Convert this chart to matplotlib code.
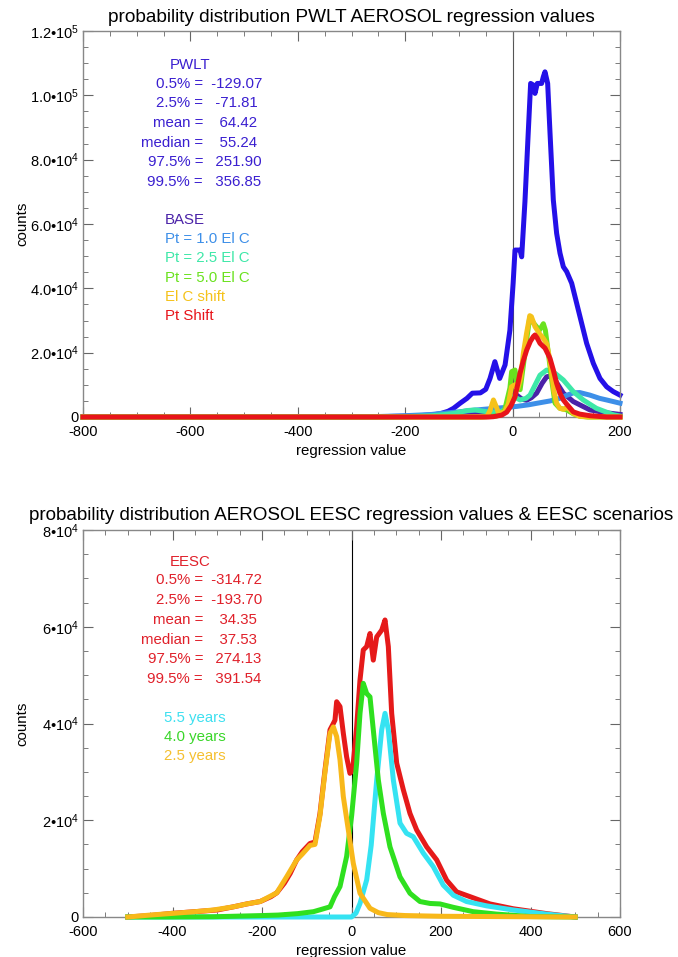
import numpy as np
import matplotlib
matplotlib.use("Agg")
import matplotlib.pyplot as plt
from matplotlib.ticker import MultipleLocator

plt.rcParams['font.family'] = ['Liberation Sans', 'DejaVu Sans']
plt.rcParams['mathtext.fontset'] = 'custom'
plt.rcParams['mathtext.rm'] = 'Liberation Sans'
plt.rcParams['mathtext.it'] = 'Liberation Sans'
plt.rcParams['axes.unicode_minus'] = False

# ---------------- top panel data (PWLT) ----------------
pwlt_x = [-800, -300, -250, -200, -170, -147, -135, -120, -110, -98, -85, -75, -60, -50, -42,
          -33, -24, -14, -5, 1, 4.5, 13.8, 16.9, 23, 29, 33.6, 38.6, 41.7, 46, 54, 57.3, 60.3,
          65.3, 69.7, 75.8, 82, 88.3, 94.5, 100.7, 110, 125.5, 137.9, 150.3, 162.7, 175.1, 187.5, 200]
pwlt_y = [0, 0, 100, 250, 450, 700, 1000, 1800, 2700, 4250, 5800, 7400, 7500, 8600, 12000,
          17200, 12000, 16200, 27000, 41600, 51900, 51900, 49800, 67000, 88000, 103700, 103200, 100600,
          103700, 103700, 105800, 107300, 103700, 88200, 67500, 57100, 50900, 46700, 45200, 41600,
          31200, 22900, 16700, 12000, 9400, 7900, 6800]

base_x = [-800, -250, -200, -150, -110, -85, -60, -40, -20, -5, 2, 7.6, 18, 26, 35, 44.7, 55,
          63.4, 72, 79, 94.5, 113, 144, 175, 200]
base_y = [0, 0, 100, 300, 800, 1500, 1700, 1400, 1600, 3500, 7000, 6800, 5500, 5200, 6000, 7400,
          10500, 12500, 12800, 11500, 7400, 4800, 2200, 1300, 800]

pt10_x = [-800, -300, -250, -200, -150, -135, -100, -73, -40, -11, 8, 30, 44.7, 70, 88, 100, 113,
          125, 144, 162, 175, 200]
pt10_y = [0, 0, 150, 400, 800, 1100, 1600, 2100, 2600, 3000, 3300, 3800, 4250, 5000, 5800, 6700,
          7500, 7600, 6800, 5800, 5300, 4300]

pt25_x = [-800, -250, -200, -150, -130, -110, -85, -70, -55, -40, -23.5, -10, -2, 6, 13.8, 25,
          32.4, 42, 51, 63.4, 79, 94.5, 113, 131.5, 156, 187.5, 200]
pt25_y = [0, 0, 100, 400, 700, 1100, 2000, 2200, 1800, 1500, 1500, 2800, 6300, 6000, 5300, 5800,
          6800, 10000, 13000, 14600, 13600, 11500, 7900, 5300, 2700, 700, 300]

pt50_x = [-800, -60, -30, -15, -5, -1.8, 4.5, 9, 14, 20, 26, 32, 40, 50, 57.3, 61, 66.6, 72.8,
          79, 88, 100.7, 113, 125, 140, 200]
pt50_y = [0, 0, 300, 2000, 9000, 14100, 14600, 9000, 8500, 16000, 23900, 31000, 29000, 27000,
          29000, 27000, 19800, 11500, 4300, 2700, 2200, 1000, 300, 0, 0]

elc_x = [-800, -55, -48, -42, -35.7, -30, -26, -15, -8, -2, 4, 10, 15, 20, 26, 32, 35, 41.7, 51,
         57, 63.4, 68, 72.8, 77, 82, 88, 95, 100.7, 107, 113, 125, 140, 200]
elc_y = [0, 0, 100, 2000, 5300, 3000, 1100, 1600, 4000, 9400, 10000, 9000, 12000, 19800, 26000,
         31500, 31200, 28100, 25700, 24500, 22800, 19000, 13600, 8000, 4300, 2700, 2400, 3000,
         2200, 1100, 200, 0, 0]

pts_x = [-800, -45, -35.7, -20, -11, -3, 4.5, 10, 13.8, 20, 26.2, 33, 38.6, 41.7, 46, 51, 60.4,
         66, 69.7, 76, 82, 88, 94.5, 100.7, 113, 125, 144, 175, 200]
pts_y = [0, 0, 100, 600, 1500, 3500, 6300, 10500, 13600, 17500, 20800, 23500, 25000, 25500,
         24500, 22900, 21400, 19500, 18200, 14500, 10500, 7400, 5300, 4000, 1600, 900, 400, 0, 0]

top_names = ['BASE', 'Pt = 1.0 El C', 'Pt = 2.5 El C', 'Pt = 5.0 El C', 'El C shift', 'Pt Shift']
top_colors = ['#4a22a8', '#3d8fe8', '#3ee8a8', '#6ae21e', '#f5c21a', '#e8141a']
top_series = [(base_x, base_y), (pt10_x, pt10_y), (pt25_x, pt25_y), (pt50_x, pt50_y),
              (elc_x, elc_y), (pts_x, pts_y)]

stats_names = ['0.5%', '2.5%', 'mean', 'median', '97.5%', '99.5%']
pwlt_stats = [-129.07, -71.81, 64.42, 55.24, 251.90, 356.85]

top_yticks = [0, 2e4, 4e4, 6e4, 8e4, 1e5, 1.2e5]
top_ylabels = ['0', '2.0•10$^{4}$', '4.0•10$^{4}$', '6.0•10$^{4}$', '8.0•10$^{4}$',
               '1.0•10$^{5}$', '1.2•10$^{5}$']

# ---------------- bottom panel data (EESC) ----------------
eesc_x = [-500, -450, -400, -350, -300, -264, -234, -204, -180, -167, -150, -137, -122.5, -110,
          -92.7, -81.6, -70.4, -59.2, -48, -40.6, -36.9, -33.2, -25.7, -18.3, -10.9, -3.5, 2.5,
          11.5, 19, 26.3, 33.9, 41.3, 48.7, 56.3, 67.5, 74.9, 82.3, 89.8, 101, 115.8, 130.7, 145.6,
          168, 190.4, 212.7, 235, 265, 309.5, 361.6, 436, 500]
eesc_y = [0, 300, 760, 1100, 1450, 2100, 2700, 3200, 4200, 5000, 7000, 9000, 11800, 13500,
          15200, 15500, 21400, 30400, 38700, 40000, 40700, 44500, 43500, 38000, 33100, 29700,
          30400, 39300, 49000, 55200, 55900, 58600, 53100, 57900, 59300, 61400, 55900, 42100,
          31800, 26300, 21400, 18000, 14500, 11800, 7600, 5200, 4200, 2700, 1700, 700, 0]

y55_x = [-500, -20, 0, 10, 19, 34, 44, 56.3, 67.5, 74.9, 82.3, 93.5, 108.4, 123, 138, 160.5,
         182.8, 205, 227.5, 257, 302, 361.6, 436, 500]
y55_y = [0, 0, 0, 800, 2800, 7700, 14800, 28300, 38700, 42100, 38700, 28300, 19400, 17300, 16600,
         13200, 10400, 6600, 4500, 3200, 2300, 1450, 600, 0]

y40_x = [-500, -400, -309, -200, -164, -120, -85, -70, -48, -38, -25.7, -10.9, 0.4, 11.5, 19,
         26.3, 33.9, 41.3, 48.7, 60, 71.2, 86, 108.4, 130.7, 153, 175.4, 197.7, 227.5, 272, 324,
         399, 500]
y40_y = [0, 0, 50, 300, 400, 700, 1100, 1500, 2100, 4200, 6300, 12500, 21000, 31800, 42100,
         48300, 46200, 45500, 38700, 28300, 21400, 14500, 8300, 4900, 3200, 2800, 2700, 2000, 1100,
         600, 100, 0]

y25_x = [-500, -450, -398, -350, -309, -264, -234, -204, -167, -145, -122.5, -110, -92.7, -81.6,
         -70.4, -59.2, -48, -40.6, -33.2, -25.7, -18.3, -7.1, 4, 19, 41.3, 60, 80, 120, 200, 300,
         400, 500]
y25_y = [0, 400, 760, 1100, 1450, 2100, 2700, 3200, 5000, 8300, 11800, 13000, 14800, 15000,
         21000, 30000, 38000, 39300, 37300, 32500, 24900, 18000, 11100, 4900, 1800, 900, 500, 300,
         150, 100, 50, 0]

bot_names = ['5.5 years', '4.0 years', '2.5 years']
bot_colors = ['#35e3f2', '#2fe01f', '#f8b81a']
bot_text_colors = ['#3ee0f0', '#3ad62a', '#f5c030']
bot_series = [(y55_x, y55_y), (y40_x, y40_y), (y25_x, y25_y)]

eesc_stats = [-314.72, -193.70, 34.35, 37.53, 274.13, 391.54]

bot_yticks = [0, 2e4, 4e4, 6e4, 8e4]
bot_ylabels = ['0', '2•10$^{4}$', '4•10$^{4}$', '6•10$^{4}$', '8•10$^{4}$']

# ---------------- figure ----------------
W, H = 678, 957
fig = plt.figure(figsize=(W / 100, H / 100), dpi=100)
ax1 = fig.add_axes([83 / W, 1 - 417 / H, 537 / W, 386 / H])
ax2 = fig.add_axes([83 / W, 1 - 917 / H, 537 / W, 387 / H])

LW = 3.6


def style_axes(ax, xlim, ylim, yticks, ylabels):
    ax.set_xlim(*xlim)
    ax.set_ylim(*ylim)
    ax.xaxis.set_major_locator(MultipleLocator(200))
    ax.xaxis.set_minor_locator(MultipleLocator(50))
    ax.set_yticks(yticks)
    ax.set_yticklabels(ylabels)
    ax.yaxis.set_minor_locator(MultipleLocator(5000))
    ax.tick_params(which='both', direction='in', top=True, right=True, color='#666666',
                   labelsize=10.5)
    ax.tick_params(which='major', length=7)
    ax.tick_params(which='minor', length=3.5)
    ax.tick_params(axis='x', pad=6)
    ax.tick_params(axis='y', pad=3)
    for s in ax.spines.values():
        s.set_color('#888888')
        s.set_linewidth(1)
    ax.set_xlabel('regression value', fontsize=10.8, labelpad=3)
    ax.set_ylabel('counts', fontsize=10.8)
    ax.yaxis.set_label_coords(-0.10, 0.5)


def stats_block(ax, top_px, bottom_px, height_px, head, color, values):
    def fy(py):
        return (bottom_px - py) / height_px
    ax.text(0.162, fy(top_px), head, color=color, fontsize=10.8, va='center',
            transform=ax.transAxes)
    for i, (n, v) in enumerate(zip(stats_names, values)):
        y = fy(top_px + 18.5 + i * 19.7)
        ax.text(0.2235, y, n + ' =', color=color, fontsize=10.8, ha='right', va='center',
                transform=ax.transAxes)
        ax.text(0.2235, y, ' ' + f'{v:8.2f}', color=color, fontsize=10.8, ha='left',
                va='center', transform=ax.transAxes)


# top panel
ax1.axvline(0, color='#555555', lw=0.8, zorder=1)
ax1.plot(pwlt_x, pwlt_y, color='#2410e8', lw=LW, clip_on=False, zorder=2)
for (sx, sy), c in zip(top_series, top_colors):
    ax1.plot(sx, sy, color=c, lw=LW, clip_on=False, zorder=3)
style_axes(ax1, (-800, 200), (0, 1.2e5), top_yticks, top_ylabels)
ax1.text(0.5, (417 - 17) / 386, 'probability distribution PWLT AEROSOL regression values',
         fontsize=13.7, ha='center', va='center', transform=ax1.transAxes)
stats_block(ax1, 65, 417, 386, 'PWLT', '#3a1fd0', pwlt_stats)
for i, (n, c) in enumerate(zip(top_names, top_colors)):
    ax1.text((165 - 83) / 537, (417 - (220 + i * 19.2)) / 386, n, color=c, fontsize=10.8,
             va='center', transform=ax1.transAxes)

# bottom panel
ax2.axvline(0, color='black', lw=0.8, zorder=1)
ax2.plot(eesc_x, eesc_y, color='#e51a1a', lw=LW, clip_on=False, zorder=2)
for (sx, sy), c in zip(bot_series, bot_colors):
    ax2.plot(sx, sy, color=c, lw=LW, clip_on=False, zorder=3)
style_axes(ax2, (-600, 600), (0, 8e4), bot_yticks, bot_ylabels)
ax2.text(0.5, (917 - 515) / 387,
         'probability distribution AEROSOL EESC regression values & EESC scenarios',
         fontsize=13.6, ha='center', va='center', transform=ax2.transAxes)
stats_block(ax2, 562, 917, 387, 'EESC', '#e0202a', eesc_stats)
for i, (n, c) in enumerate(zip(bot_names, bot_text_colors)):
    ax2.text((164 - 83) / 537, (917 - (718 + i * 19.2)) / 387, n, color=c, fontsize=10.8,
             va='center', transform=ax2.transAxes)

fig.savefig('out.png', dpi=100, facecolor='white')
